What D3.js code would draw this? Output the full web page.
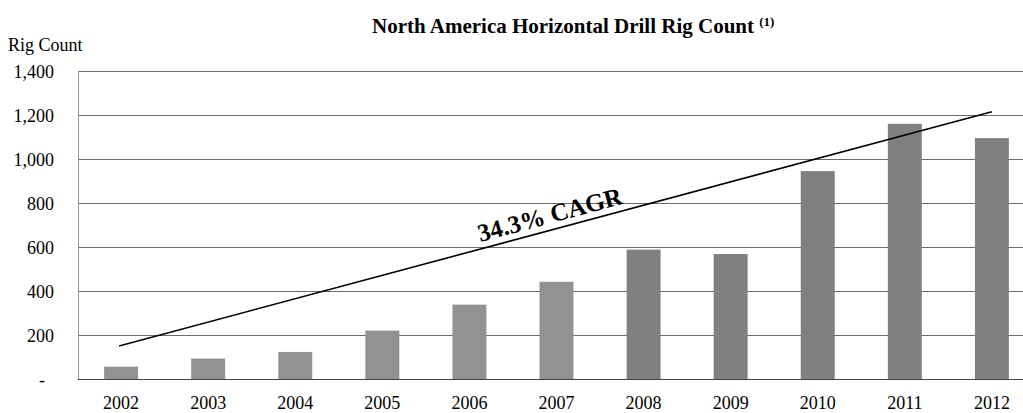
<!DOCTYPE html>
<html>
<head>
<meta charset="utf-8">
<script src="https://cdn.jsdelivr.net/npm/d3@7"></script>
<style>
html,body{margin:0;padding:0;background:#fff;}
svg{display:block;}
text{font-family:"Liberation Serif","Times New Roman",serif;fill:#000;}
</style>
</head>
<body>
<svg id="chart" width="1023" height="413"></svg>
<script>
const years = ["2002","2003","2004","2005","2006","2007","2008","2009","2010","2011","2012"];
const rigCounts = [56, 93, 123, 220, 338, 442, 588, 568, 945, 1160, 1095];
const yTicks = [0, 200, 400, 600, 800, 1000, 1200, 1400];
const cagrStart = 150, cagrEnd = 1215;
const cagrLabel = "34.3% CAGR";

const svg = d3.select("#chart");
const pLeft = 78, pRight = 1035, pTop = 71, pBottom = 379;

const x = d3.scaleBand().domain(years).range([pLeft, pRight]).paddingInner(0.61).paddingOuter(0.3);
const y = d3.scaleLinear().domain([0, 1400]).range([pBottom, pTop]);

// gridlines
svg.append("g").selectAll("line").data(yTicks.filter(d => d > 0)).join("line")
  .attr("x1", pLeft).attr("x2", 1023)
  .attr("y1", d => y(d) + 0.5).attr("y2", d => y(d) + 0.5)
  .attr("stroke", "#6a6a6a").attr("stroke-width", 1);
// left axis line
svg.append("line").attr("x1", pLeft + 0.5).attr("x2", pLeft + 0.5).attr("y1", pTop).attr("y2", pBottom)
  .attr("stroke", "#9a9a9a").attr("stroke-width", 1);
// bars
svg.append("g").selectAll("rect").data(years).join("rect")
  .attr("x", d => x(d)).attr("width", x.bandwidth())
  .attr("y", (d, i) => y(rigCounts[i])).attr("height", (d, i) => y(0) - y(rigCounts[i]))
  .attr("fill", (d, i) => i < 6 ? "#929292" : "#808080");
// baseline
svg.append("line").attr("x1", pLeft).attr("x2", 1023).attr("y1", pBottom + 0.5).attr("y2", pBottom + 0.5)
  .attr("stroke", "#444").attr("stroke-width", 1);

// y tick labels
const yAxis = d3.axisLeft(y).tickValues(yTicks).tickSize(0).tickPadding(0)
  .tickFormat(d => d === 0 ? "-" : d3.format(",")(d));
const ga = svg.append("g").attr("transform", "translate(54,0)").call(yAxis);
ga.select(".domain").remove();
ga.selectAll("text").attr("font-size", 18).attr("font-family", "Liberation Serif").attr("fill", "#000")
  .attr("dy", "0.35em")
  .attr("x", d => d === 0 ? -9 : 0);

// x labels
const xAxis = d3.axisBottom(x).tickSize(0).tickPadding(0);
const gx = svg.append("g").attr("transform", "translate(0,0)").call(xAxis);
gx.select(".domain").remove();
gx.selectAll("text").attr("font-size", 18).attr("font-family", "Liberation Serif").attr("fill", "#000")
  .attr("y", 409).attr("dy", 0);

// CAGR line
const x0 = x(years[0]) + x.bandwidth() / 2 - 2;
const x1 = x(years[years.length - 1]) + x.bandwidth() / 2;
svg.append("line").attr("x1", x0).attr("y1", y(cagrStart)).attr("x2", x1).attr("y2", y(cagrEnd))
  .attr("stroke", "#000").attr("stroke-width", 1.6);
const lx = 552;
const ly = y(cagrStart) + (y(cagrEnd) - y(cagrStart)) * (lx - x0) / (x1 - x0);
svg.append("text").attr("transform", `translate(${lx},${ly - 7}) rotate(-15)`)
  .attr("text-anchor", "middle").attr("font-size", 25).attr("font-weight", "bold").text(cagrLabel);

// titles
const t = svg.append("text").attr("x", 372).attr("y", 33).attr("font-size", 21).attr("font-weight", "bold");
t.append("tspan").text("North America Horizontal Drill Rig Count ");
t.append("tspan").attr("font-size", 13).attr("dy", -7).text("(1)");
svg.append("text").attr("x", 8).attr("y", 51).attr("font-size", 18).text("Rig Count");
</script>
</body>
</html>
